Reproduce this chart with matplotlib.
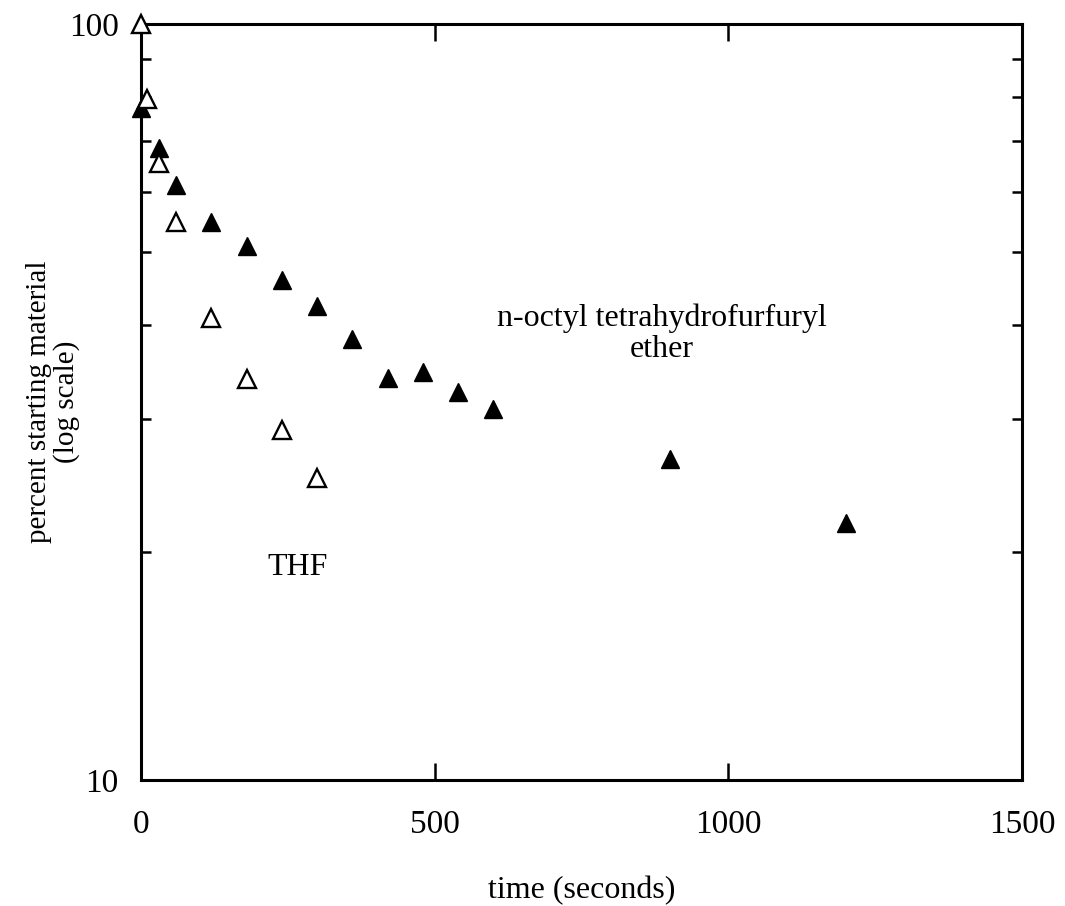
import matplotlib
matplotlib.use("Agg")
import matplotlib.pyplot as plt
from matplotlib.ticker import FixedLocator, NullFormatter, NullLocator

plt.rcParams['font.family'] = ['Liberation Serif', 'DejaVu Serif']

# n-octyl tetrahydrofurfuryl ether (filled triangles)
ether_time = [0, 30, 60, 120, 180, 240, 300, 360, 420, 480, 540, 600, 900, 1200]
ether_pct = [77.4, 68.5, 61.2, 54.7, 50.8, 45.9, 42.4, 38.3, 34.0, 34.7, 32.6, 31.0, 26.6, 21.9]

# THF (open triangles)
thf_time = [0, 10, 30, 60, 120, 180, 240, 300]
thf_pct = [100, 79.7, 65.4, 54.7, 40.8, 33.9, 29.0, 25.1]

x_ticks = [0, 500, 1000, 1500]
x_tick_labels = ["0", "500", "1000", "1500"]
y_ticks = [10, 100]
y_tick_labels = ["10", "100"]
y_minor = [20, 30, 40, 50, 60, 70, 80, 90]

fig = plt.figure(figsize=(10.65, 9.06), dpi=100)
ax = fig.add_axes([0.1324, 0.1391, 0.8272, 0.8344])

ax.plot(ether_time, ether_pct, linestyle='none', marker='^', markersize=13,
        color='black', markerfacecolor='black', clip_on=False, zorder=3)
ax.plot(thf_time, thf_pct, linestyle='none', marker='^', markersize=12.5,
        markerfacecolor='white', markeredgecolor='black', markeredgewidth=1.7,
        clip_on=False, zorder=3)

ax.set_yscale('log')
ax.set_xlim(0, 1500)
ax.set_ylim(10, 100)

ax.xaxis.set_major_locator(FixedLocator(x_ticks))
ax.set_xticklabels(x_tick_labels)
ax.yaxis.set_major_locator(FixedLocator(y_ticks))
ax.set_yticklabels(y_tick_labels)
ax.yaxis.set_minor_locator(FixedLocator(y_minor))
ax.yaxis.set_minor_formatter(NullFormatter())
ax.xaxis.set_minor_locator(NullLocator())

ax.tick_params(axis='x', which='major', direction='in', length=12, width=1.8,
               top=True, bottom=True, labelsize=24, pad=21)
ax.tick_params(axis='y', which='major', direction='in', length=0, width=1.8,
               left=True, right=True, labelsize=24, pad=16)
ax.tick_params(axis='y', which='minor', direction='in', length=7.5, width=1.8,
               left=True, right=True)

for s in ax.spines.values():
    s.set_linewidth(2.2)

ax.set_xlabel("time (seconds)", fontsize=23)
ax.xaxis.set_label_coords(0.5, -0.156)
ax.xaxis.label.set_va('baseline')

ax.set_ylabel("percent starting material\n(log scale)", fontsize=21)
ax.yaxis.label.set_linespacing(1.02)
ax.yaxis.set_label_coords(-0.0999, 0.5)
ax.yaxis.label.set_va('center')

ax.text(887, 38.9, "n-octyl tetrahydrofurfuryl\nether", fontsize=23, ha='center',
        va='center', linespacing=1.1)
ax.text(266, 19.1, "THF", fontsize=23, ha='center', va='center')

fig.savefig("out.png", dpi=100)
